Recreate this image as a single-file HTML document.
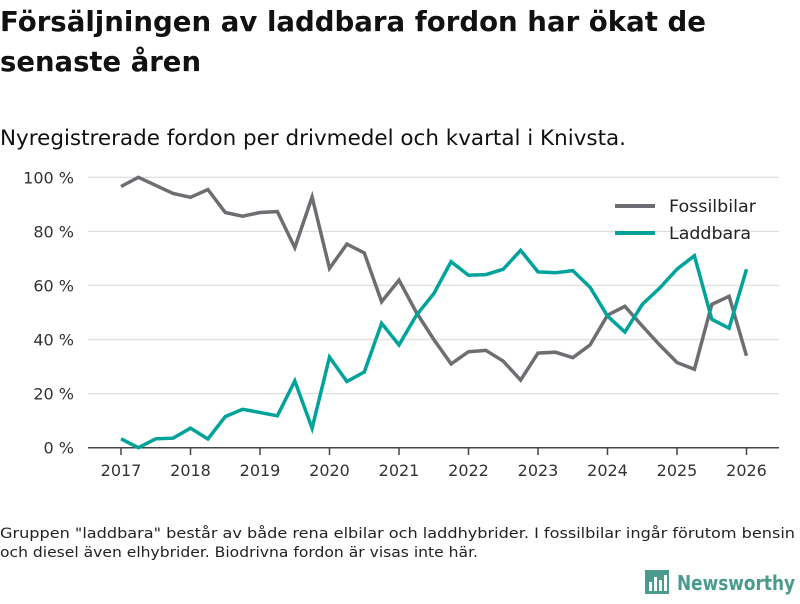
<!DOCTYPE html>
<html><head><meta charset="utf-8"><style>
body{margin:0;background:#fff;font-family:"DejaVu Sans","Liberation Sans",sans-serif;}
</style></head><body>
<svg width="800" height="600" xmlns="http://www.w3.org/2000/svg" style="font-family:'DejaVu Sans','Liberation Sans',sans-serif">
<text x="0" y="31" font-size="27.5" font-weight="bold" fill="#111" textLength="706" lengthAdjust="spacingAndGlyphs">Försäljningen av laddbara fordon har ökat de</text>
<text x="0" y="71" font-size="27.5" font-weight="bold" fill="#111" textLength="201" lengthAdjust="spacingAndGlyphs">senaste åren</text>
<text x="0" y="145" font-size="21" fill="#111" textLength="626" lengthAdjust="spacingAndGlyphs">Nyregistrerade fordon per drivmedel och kvartal i Knivsta.</text>
<g id="grid"></g><g id="yt"></g><g id="xt"></g><g id="lines"></g>
<g>
<line x1="615" y1="206" x2="655" y2="206" stroke="#6e6d72" stroke-width="4"/>
<text x="669" y="212" font-size="16.5" fill="#222" textLength="87" lengthAdjust="spacingAndGlyphs">Fossilbilar</text>
<line x1="615" y1="233" x2="655" y2="233" stroke="#00a39a" stroke-width="4"/>
<text x="669" y="239" font-size="16.5" fill="#222" textLength="82" lengthAdjust="spacingAndGlyphs">Laddbara</text>
</g>
<text x="0" y="538" font-size="14" fill="#222" textLength="795" lengthAdjust="spacingAndGlyphs">Gruppen "laddbara" består av både rena elbilar och laddhybrider. I fossilbilar ingår förutom bensin</text>
<text x="0" y="557" font-size="14" fill="#222" textLength="478" lengthAdjust="spacingAndGlyphs">och diesel även elhybrider. Biodrivna fordon är visas inte här.</text>
<g>
<rect x="645" y="570" width="24" height="24" fill="#4a9a8e"/>
<rect x="649" y="582" width="3" height="9" fill="#fff"/><rect x="654" y="577" width="3" height="14" fill="#fff"/><rect x="659" y="580" width="3" height="11" fill="#fff"/><rect x="664" y="575" width="3" height="16" fill="#fff"/>
<text x="677" y="590" font-size="20" font-weight="bold" fill="#4a9a8e" textLength="118" lengthAdjust="spacingAndGlyphs">Newsworthy</text>
</g>
</svg>
<script>
const years=[2017,2018,2019,2020,2021,2022,2023,2024,2025,2026];
const yTicks=[0,20,40,60,80,100];
const fossil=[96.6,100,97,94,92.6,95.5,87,85.6,87,87.3,74,92.7,66.3,75.3,72,54,62,50,40,31,35.5,36,32,25,35,35.3,33.3,38,49,52.3,45,38,31.5,29,53,56,34];
const laddbara=[3.3,0,3.3,3.5,7.2,3.2,11.5,14.2,13,11.8,24.7,7.2,33.5,24.5,28,46,38,49,57,68.8,63.8,64,66,73,65,64.7,65.5,59.3,48.7,42.8,53,59,66,71,47.5,44.2,66];
const NS="http://www.w3.org/2000/svg";
const X=t=>121+(t-2017)*69.5;
const Y=v=>447.7-v*2.704;
function mk(tag,at,parent){const e=document.createElementNS(NS,tag);for(const k in at)e.setAttribute(k,at[k]);document.getElementById(parent).appendChild(e);return e;}
yTicks.forEach(v=>{
 const l=mk('line',{x1:88,x2:779,y1:Y(v),y2:Y(v),stroke:v===0?'#444':'#e0e0e0','stroke-width':v===0?1.5:1.3},'grid');
 
 
 const t=mk('text',{x:74,y:Y(v)+6,'font-size':16,fill:'#333','text-anchor':'end'},'yt');
 t.textContent=v+' %';
 
 
});
years.forEach(yr=>{
 const l=mk('line',{x1:X(yr),x2:X(yr),y1:448,y2:455,stroke:'#444','stroke-width':1.5},'xt');
 
 
 const t=mk('text',{x:X(yr),y:476,'font-size':16,fill:'#333','text-anchor':'middle'},'xt');
 t.textContent=yr;
 
 
});
function line(data,color,name){
 const pts=data.map((v,i)=>X(2017+i/4).toFixed(1)+','+Y(v).toFixed(1)).join(' ');
 const p=mk('polyline',{points:pts,fill:'none',stroke:color,'stroke-width':3.5,'stroke-linejoin':'miter'},'lines');
 
 
}
line(fossil,'#6e6d72','line-fossilbilar');
line(laddbara,'#00a39a','line-laddbara');
</script>
</body></html>
